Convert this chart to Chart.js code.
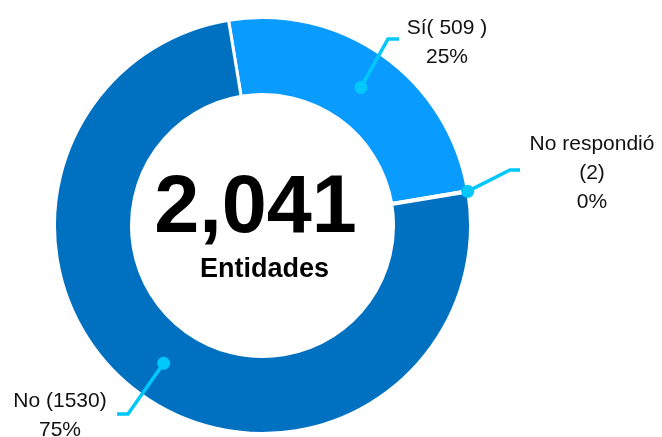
<!DOCTYPE html>
<html>
<head>
<meta charset="utf-8">
<script src="https://cdn.jsdelivr.net/npm/chart.js@4.4.1/dist/chart.umd.min.js"></script>
<style>
  html, body { margin: 0; padding: 0; background: #ffffff; }
  #wrap { width: 662px; height: 437px; position: relative; }
</style>
</head>
<body>
<div id="wrap"><canvas id="dona"></canvas></div>
<script>
// datos
const categorias = ['Sí', 'No respondió', 'No'];
const valores = [509, 2, 1530];
const etiquetas = [['Sí( 509 )'], ['No respondió', '(2)'], ['No (1530)']];
const colores = ['#0A9BFF', '#A5A5A5', '#0070C0'];
const textoCentro = 'Entidades';

// posicion manual de las etiquetas (como en el original)
const layoutEtiquetas = [
  { x: 447, y: 28, codo: [388, 39], fin: [399, 39], radio: 'medio' },
  { x: 592, y: 144, codo: [510, 170], fin: [520, 170], radio: 'exterior' },
  { x: 60, y: 401, codo: [128, 414], fin: [117, 414], radio: 'medio' }
];

const total = valores.reduce((a, b) => a + b, 0);
const colorGuia = '#00C8FA';

const pluginEtiquetas = {
  id: 'etiquetas',
  afterDraw(chart) {
    const ctx = chart.ctx;
    const meta = chart.getDatasetMeta(0);
    ctx.save();

    // total en el centro
    const arc0 = meta.data[0];
    const cx = arc0.x, cy = arc0.y;
    ctx.fillStyle = '#000';
    ctx.textAlign = 'center';
    ctx.textBaseline = 'alphabetic';
    ctx.font = 'bold 81px "Liberation Sans", Arial, sans-serif';
    ctx.fillText(total.toLocaleString('en-US'), cx - 7, cy + 6);
    ctx.font = 'bold 27px "Liberation Sans", Arial, sans-serif';
    ctx.fillText(textoCentro, cx + 2, cy + 51);

    meta.data.forEach((arc, i) => {
      const lay = layoutEtiquetas[i];
      const p = arc.getProps(['x', 'y', 'startAngle', 'endAngle', 'innerRadius', 'outerRadius'], true);
      const mid = (p.startAngle + p.endAngle) / 2;
      const r = lay.radio === 'exterior' ? p.outerRadius : (p.innerRadius + p.outerRadius) / 2;
      const ax = p.x + Math.cos(mid) * r;
      const ay = p.y + Math.sin(mid) * r;

      // linea guia
      ctx.strokeStyle = colorGuia;
      ctx.lineWidth = 3.5;
      ctx.lineJoin = 'miter';
      ctx.beginPath();
      ctx.moveTo(ax, ay);
      ctx.lineTo(lay.codo[0], lay.codo[1]);
      ctx.lineTo(lay.fin[0], lay.fin[1]);
      ctx.stroke();
      ctx.fillStyle = colorGuia;
      ctx.beginPath();
      ctx.arc(ax, ay, 6.5, 0, Math.PI * 2);
      ctx.fill();

      // texto
      const pct = Math.round(valores[i] / total * 100) + '%';
      const lineas = etiquetas[i].concat([pct]);
      ctx.fillStyle = '#111';
      ctx.font = '21px "Liberation Sans", Arial, sans-serif';
      ctx.textAlign = 'center';
      ctx.textBaseline = 'middle';
      lineas.forEach((t, k) => ctx.fillText(t, lay.x, lay.y + k * 29));
    });
    ctx.restore();
  }
};

new Chart(document.getElementById('dona'), {
  type: 'doughnut',
  data: {
    labels: categorias,
    datasets: [{
      data: valores,
      backgroundColor: colores,
      borderColor: '#ffffff',
      borderWidth: 3
    }]
  },
  options: {
    responsive: true,
    maintainAspectRatio: false,
    animation: false,
    cutout: '63%',
    rotation: -9.4,
    layout: { padding: { left: 53, right: 190, top: 16, bottom: 2 } },
    plugins: {
      legend: { display: false },
      tooltip: { enabled: false }
    }
  },
  plugins: [pluginEtiquetas]
});
</script>
</body>
</html>
